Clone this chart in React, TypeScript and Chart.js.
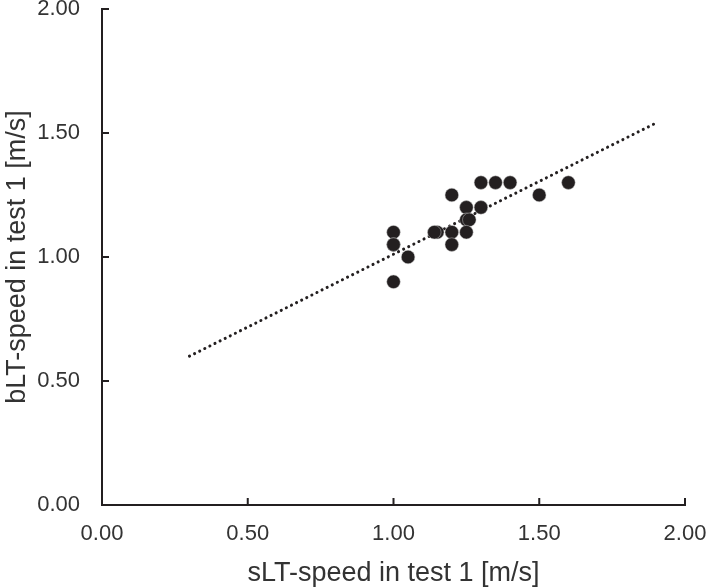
import React, { useEffect, useRef } from "react";
import { Chart, registerables } from "chart.js";

Chart.register(...registerables);

// Scatter data: sLT-speed (x) vs bLT-speed (y), test 1
const sltSpeed = [1.3, 1.35, 1.4, 1.6, 1.5, 1.2, 1.25, 1.3, 1.25, 1.26, 1.15, 1.14, 1.2, 1.25, 1.2, 1.0, 1.0, 1.0, 1.05, 1.0];
const bltSpeed = [1.3, 1.3, 1.3, 1.3, 1.25, 1.25, 1.2, 1.2, 1.15, 1.15, 1.1, 1.1, 1.1, 1.1, 1.05, 1.1, 1.05, 1.05, 1.0, 0.9];

// Linear trend line end points
const trendX = [0.3, 1.9];
const trendY = [0.6, 1.54];

const axisTicks = [0, 0.5, 1.0, 1.5, 2.0];

const xTitle = "sLT-speed in test 1 [m/s]";
const yTitle = "bLT-speed in test 1 [m/s]";

const INK = "#231f20";
const TEXT = "#333333";
const FONT = "'Liberation Sans', Arial, sans-serif";

const innerTicks = {
  id: "innerTicks",
  afterDraw(chart: any) {
    const { ctx } = chart;
    const xs = chart.scales.x;
    const ys = chart.scales.y;
    const len = 7;
    ctx.save();
    ctx.strokeStyle = INK;
    ctx.lineWidth = 2;
    ctx.beginPath();
    axisTicks.forEach((v) => {
      const px = xs.getPixelForValue(v);
      ctx.moveTo(px, xs.top);
      ctx.lineTo(px, xs.top - len);
      const py = ys.getPixelForValue(v);
      ctx.moveTo(ys.right, py);
      ctx.lineTo(ys.right + len, py);
    });
    ctx.stroke();
    ctx.restore();
  },
};

export default function App() {
  const ref = useRef<HTMLCanvasElement | null>(null);

  useEffect(() => {
    document.body.style.margin = "0";
    const canvas = ref.current;
    if (!canvas) return;
    const points = sltSpeed.map((x, i) => ({ x, y: bltSpeed[i] }));
    const trend = trendX.map((x, i) => ({ x, y: trendY[i] }));
    const chart = new Chart(canvas, {
      type: "scatter",
      data: {
        datasets: [
          {
            type: "line",
            data: trend,
            borderColor: INK,
            borderWidth: 3,
            borderDash: [0.1, 5.6],
            borderCapStyle: "round",
            pointRadius: 0,
            fill: false,
            order: 2,
          } as any,
          {
            data: points,
            backgroundColor: INK,
            borderColor: "rgba(200,200,200,0.8)",
            borderWidth: 0.6,
            pointRadius: 6.8,
            order: 1,
          },
        ],
      },
      options: {
        responsive: false,
        animation: false,
        layout: { padding: { top: 9, right: 24, left: 0, bottom: 0 } },
        plugins: { legend: { display: false }, tooltip: { enabled: false } },
        scales: {
          x: {
            type: "linear",
            min: 0,
            max: 2,
            afterBuildTicks: (s: any) => {
              s.ticks = axisTicks.map((v) => ({ value: v }));
            },
            afterFit: (s: any) => {
              s.height = 82;
              s.paddingLeft = 0;
              s.paddingRight = 0;
            },
            grid: { display: false, drawTicks: false },
            border: { display: true, color: INK, width: 2 },
            ticks: {
              padding: 16,
              color: TEXT,
              font: { family: FONT, size: 22 },
              callback: (v: any) => Number(v).toFixed(2),
            },
            title: {
              display: true,
              text: xTitle,
              color: TEXT,
              font: { family: FONT, size: 27 },
              padding: { top: 0, bottom: -3 },
            },
          },
          y: {
            type: "linear",
            min: 0,
            max: 2,
            afterBuildTicks: (s: any) => {
              s.ticks = axisTicks.map((v) => ({ value: v }));
            },
            afterFit: (s: any) => {
              s.width = 102;
              s.paddingTop = 0;
              s.paddingBottom = 0;
            },
            grid: { display: false, drawTicks: false },
            border: { display: true, color: INK, width: 2 },
            ticks: {
              padding: 22,
              color: TEXT,
              font: { family: FONT, size: 22 },
              callback: (v: any) => Number(v).toFixed(2),
            },
            title: {
              display: true,
              text: yTitle,
              color: TEXT,
              font: { family: FONT, size: 27 },
              padding: { top: 1.5, bottom: 0 },
            },
          },
        },
      },
      plugins: [innerTicks],
    });
    return () => chart.destroy();
  }, []);

  return (
    <div style={{ width: 709, height: 587, background: "#fff" }}>
      <canvas ref={ref} width={709} height={587} style={{ display: "block" }} />
    </div>
  );
}
